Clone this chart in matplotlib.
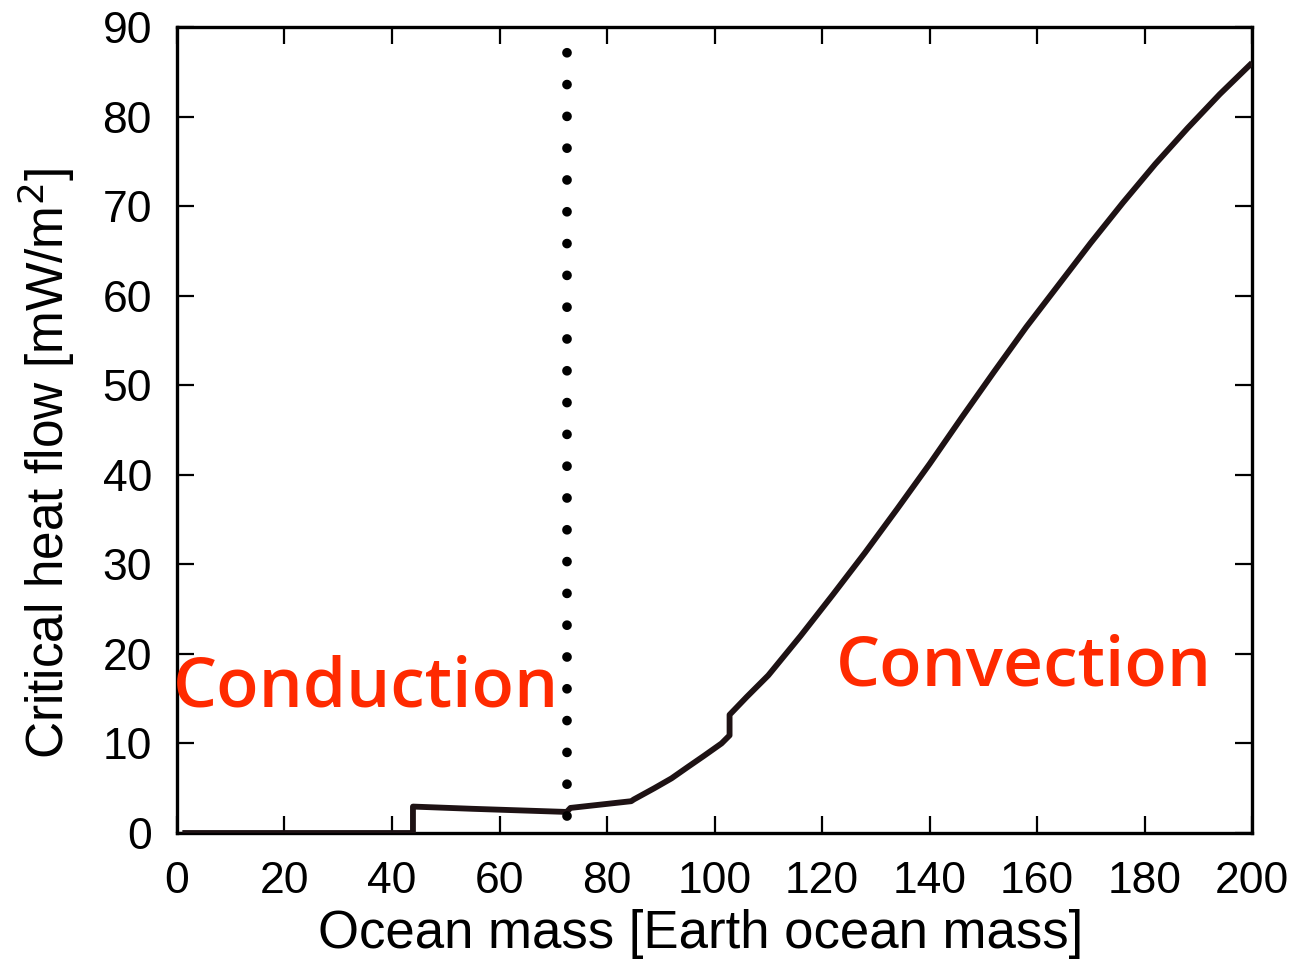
import matplotlib
matplotlib.use("Agg")
import matplotlib.pyplot as plt

# Critical heat flow versus ocean mass
ocean_mass = [1, 43.9, 43.9, 55, 65, 72.5, 73.2, 80, 84.5, 85.0, 88.8, 92, 95.1,
              98, 101.3, 102.8, 102.8, 106, 110, 116, 122, 128, 134, 140, 146,
              152, 158, 164, 170, 176, 182, 188, 194, 200]
heat_flow = [0, 0, 2.95, 2.7, 2.5, 2.35, 2.8, 3.25, 3.55, 3.75, 5.0, 6.1, 7.4,
             8.6, 10.0, 10.9, 13.2, 15.2, 17.6, 22.0, 26.6, 31.3, 36.2, 41.2,
             46.4, 51.5, 56.5, 61.2, 65.9, 70.4, 74.7, 78.7, 82.5, 86.0]

# Regime boundary
boundary_x = 72.5
boundary_y = [1.9, 87.9]

x_ticks = [0, 20, 40, 60, 80, 100, 120, 140, 160, 180, 200]
y_ticks = [0, 10, 20, 30, 40, 50, 60, 70, 80, 90]

fig = plt.figure(figsize=(13.09, 9.64), dpi=100)
ax = fig.add_axes([0.1352, 0.1359, 0.8213, 0.8361])

ax.plot(ocean_mass, heat_flow, color="#1e1214", lw=4.2, solid_joinstyle="round",
        solid_capstyle="butt", zorder=3)

dots, = ax.plot([boundary_x, boundary_x], boundary_y, color="black", lw=7,
                dash_capstyle="round", zorder=4)
dots.set_dashes([0.001, 3.27])

ax.set_xlim(0, 200)
ax.set_ylim(0, 90)
ax.set_xticks(x_ticks)
ax.set_yticks(y_ticks)

label_font = "Liberation Sans"
ax.set_xticklabels([str(v) for v in x_ticks], fontfamily=label_font, fontsize=32)
ax.set_yticklabels([str(v) for v in y_ticks], fontfamily=label_font, fontsize=32)
ax.tick_params(axis="x", direction="in", length=12, width=1.6, top=True, pad=20)
ax.tick_params(axis="y", direction="in", length=12, width=1.6, right=True, pad=18)
for s in ax.spines.values():
    s.set_linewidth(2.4)

ax.set_xlabel("Ocean mass [Earth ocean mass]", fontfamily=label_font,
              fontsize=38)
ax.set_ylabel("Critical heat flow [mW/m$^2$]", fontfamily=label_font,
              fontsize=37)
ax.xaxis.set_label_coords(0.487, -0.094)
ax.yaxis.set_label_coords(-0.093, 0.459)

red = "#ff2a00"
ax.text(-0.7, 16.1, "Conduction", color=red, fontsize=50, fontweight="semibold",
        fontfamily="Open Sans", ha="left", va="center", zorder=5)
ax.text(122.5, 18.4, "Convection", color=red, fontsize=50, fontweight="semibold",
        fontfamily="Open Sans", ha="left", va="center", zorder=5)

fig.savefig("out.png", dpi=100)
